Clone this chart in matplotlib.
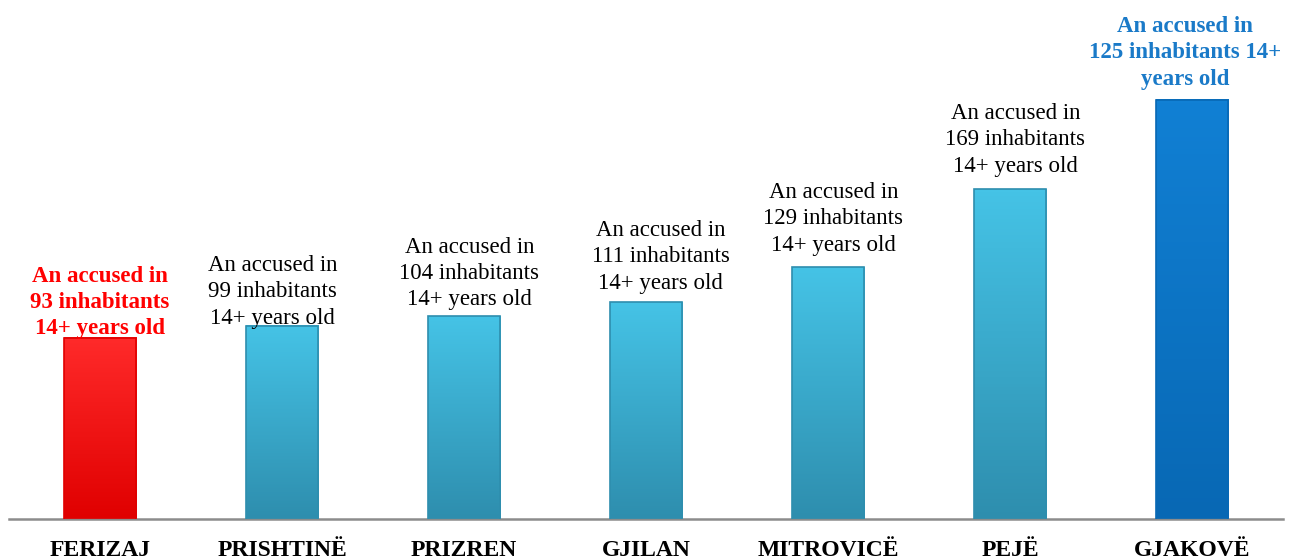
import matplotlib.pyplot as plt
import numpy as np
from matplotlib.colors import LinearSegmentedColormap

# data
regions = ["FERIZAJ", "PRISHTINË", "PRIZREN", "GJILAN", "MITROVICË", "PEJË", "GJAKOVË"]
bar_values = [93, 99, 104, 111, 129, 169, 215]
label_numbers = [93, 99, 104, 111, 129, 169, 125]

bar_colors = [("#ff2a2a", "#e00000"), ("#45c3e6", "#2e8eae"), ("#45c3e6", "#2e8eae"),
              ("#45c3e6", "#2e8eae"), ("#45c3e6", "#2e8eae"), ("#45c3e6", "#2e8eae"),
              ("#1180d4", "#0868b4")]
text_colors = ["#ff0000", "black", "black", "black", "black", "black", "#1a7ac8"]
text_bold = [True, False, False, False, False, False, True]
# label offsets (x shift, gap above bar) in data units
text_dx = [0, -0.05, 0.03, 0.08, 0.03, 0.03, -0.04]
text_dy = [-1, -1.5, 3, 4.5, 6, 6.5, 5]

fig = plt.figure(figsize=(12.94, 5.59), dpi=100)
ax = fig.add_axes([9 / 1294, 40 / 559, 1274 / 1294, 519 / 559])

x = np.arange(len(regions))
bars = ax.bar(x, bar_values, width=0.4, color="none", edgecolor="none", zorder=2)
ax.set_xlim(-0.5, len(regions) - 0.5)
ax.set_ylim(0, 266)

for b, (c_top, c_bot) in zip(bars, bar_colors):
    cmap = LinearSegmentedColormap.from_list("g", [c_bot, c_top])
    grad = np.linspace(0, 1, 100).reshape(-1, 1)
    x0, w, h = b.get_x(), b.get_width(), b.get_height()
    ax.imshow(grad, extent=(x0, x0 + w, 0, h), origin="lower", aspect="auto",
              cmap=cmap, zorder=2)
    ax.add_patch(plt.Rectangle((x0, 0), w, h, fill=False, edgecolor=c_bot,
                               linewidth=1.2, zorder=3))

serif = ["Liberation Serif", "DejaVu Serif"]
for i, (v, n) in enumerate(zip(bar_values, label_numbers)):
    if i == len(regions) - 1:
        txt = f"An accused in\n{n} inhabitants 14+\nyears old"
    else:
        txt = f"An accused in\n{n} inhabitants\n14+ years old"
    ax.text(i + text_dx[i], v + text_dy[i], txt, ha="center", va="bottom",
            fontsize=16.5, color=text_colors[i], family=serif,
            fontweight="bold" if text_bold[i] else "normal", linespacing=1.33,
            zorder=4)

ax.set_xticks(x)
ax.set_xticklabels(regions, family=serif, fontweight="bold", fontsize=17)
ax.tick_params(axis="x", length=0, pad=15)
ax.set_yticks([])
for s in ["top", "right", "left"]:
    ax.spines[s].set_visible(False)
ax.spines["bottom"].set_color("#8c8c8c")
ax.spines["bottom"].set_linewidth(1.8)
ax.set_facecolor("none")

fig.savefig("out.png", dpi=100)
